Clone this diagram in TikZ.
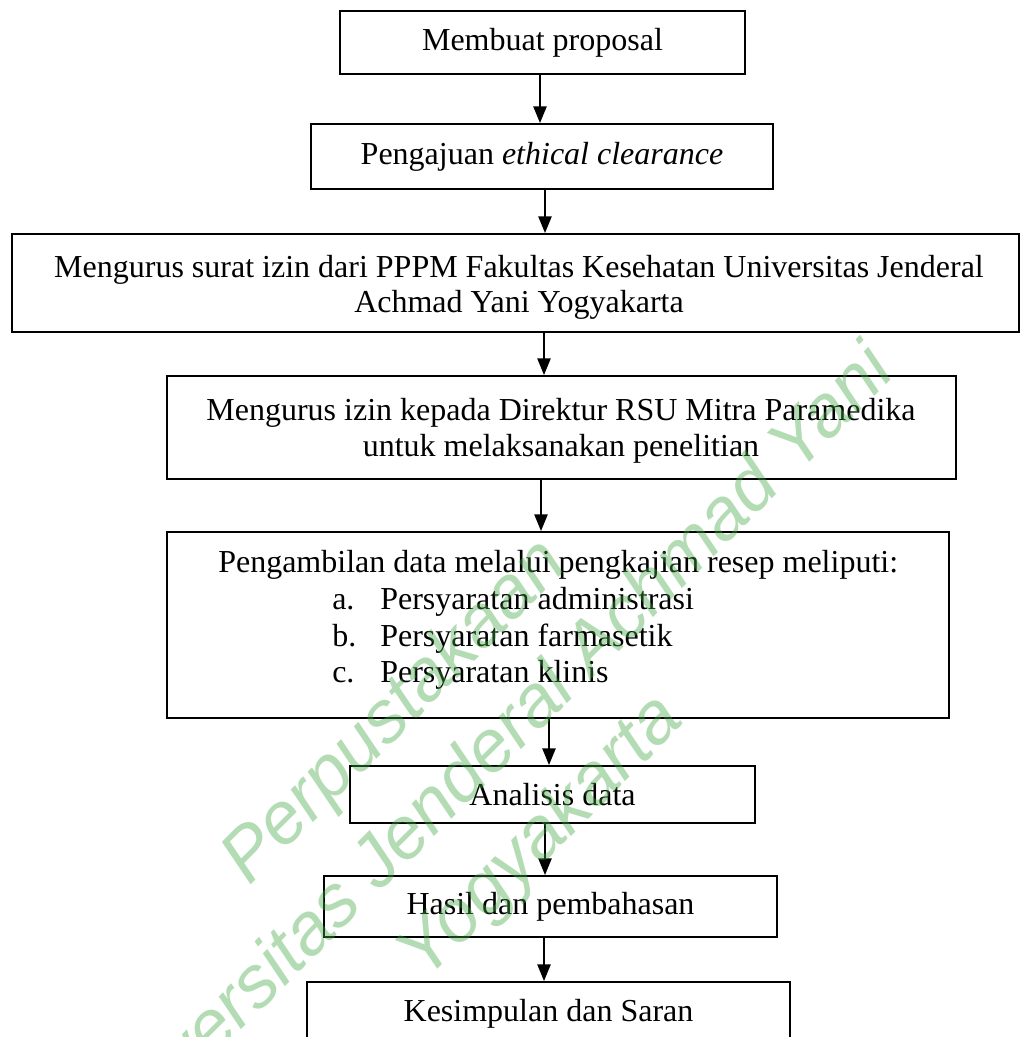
\documentclass[tikz,border=0pt]{standalone}
\usepackage{fontspec}
\setmainfont{Liberation Serif}
\newfontfamily\wmfont{Liberation Sans}
\usetikzlibrary{arrows.meta}
\definecolor{wmgreen}{RGB}{68,168,68}
\begin{document}
\begin{tikzpicture}[x=0.75pt,y=-0.75pt,
  box/.style={draw, line width=1.5pt, inner sep=0pt, align=center,
    font=\fontsize{24}{27}\selectfont},
  txt/.style={anchor=base west, inner sep=0pt, font=\fontsize{24}{27}\selectfont},
  ctxt/.style={anchor=base, inner sep=0pt, font=\fontsize{24}{27}\selectfont},
  arr/.style={line width=1.1pt, -{Triangle[length=12.5pt,width=10pt]}},
  wm/.style={text=wmgreen, text opacity=0.4, rotate=45, inner sep=0pt,
    font=\wmfont\itshape\fontsize{55}{55}\selectfont}]
\clip (0,0) rectangle (1021,1037);
\fill[white] (0,0) rectangle (1021,1037);
% boxes
\node[box, minimum width=405*0.75pt, minimum height=63*0.75pt] (b1) at (542.5,42.5) {Membuat proposal};
\node[box, minimum width=462*0.75pt, minimum height=65*0.75pt] (b2) at (542,156.5) {Pengajuan \textit{ethical clearance}};
\node[box, minimum width=1007*0.75pt, minimum height=98*0.75pt] (b3) at (515.5,283) {};
\node[ctxt] (t3a) at (519,277) {Mengurus surat izin dari PPPM Fakultas Kesehatan Universitas Jenderal};
\node[ctxt] (t3b) at (519,312) {Achmad Yani Yogyakarta};
\node[box, minimum width=789*0.75pt, minimum height=103*0.75pt] (b4) at (561.5,427.5) {};
\node[ctxt] (t4a) at (561,420) {Mengurus izin kepada Direktur RSU Mitra Paramedika};
\node[ctxt] (t4b) at (561,456) {untuk melaksanakan penelitian};
\node[box, minimum width=782*0.75pt, minimum height=186*0.75pt] (b5) at (558,625) {};
\node[txt] (t5) at (218,572) {Pengambilan data melalui pengkajian resep meliputi:};
\node[txt] (la) at (332,609) {a.};
\node[txt] (ia) at (380,609) {Persyaratan administrasi};
\node[txt] (lb) at (332,646) {b.};
\node[txt] (ib) at (380,646) {Persyaratan farmasetik};
\node[txt] (lc) at (332,682) {c.};
\node[txt] (ic) at (380,682) {Persyaratan klinis};
\node[box, minimum width=405*0.75pt, minimum height=57*0.75pt] (b6) at (552.5,794.5) {Analisis data};
\node[box, minimum width=453*0.75pt, minimum height=61*0.75pt] (b7) at (550.5,906.5) {Hasil dan pembahasan};
\node[box, minimum width=483*0.75pt, minimum height=63*0.75pt] (b8) at (548.5,1013.5) {Kesimpulan dan Saran};
% arrow columns
\coordinate (x1) at (540,0);
\coordinate (x2) at (545,0);
\coordinate (x3) at (544,0);
\coordinate (x4) at (541,0);
\coordinate (x5) at (549,0);
\coordinate (x6) at (545,0);
\coordinate (x7) at (544,0);
\draw[arr] (b1.south -| x1) -- (b2.north -| x1);
\draw[arr] (b2.south -| x2) -- (b3.north -| x2);
\draw[arr] (b3.south -| x3) -- (b4.north -| x3);
\draw[arr] (b4.south -| x4) -- (b5.north -| x4);
\draw[arr] (b5.south -| x5) -- (b6.north -| x5);
\draw[arr] (b6.south -| x6) -- (b7.north -| x6);
\draw[arr] (b7.south -| x7) -- (b8.north -| x7);
% watermark
\node[wm, anchor=base west] (w1) at (248.9,886.7) {Perpustakaan};
\node[wm, anchor=base east] (w2) at (897.3,374) {Universitas Jenderal Achmad Yani};
\node[wm, anchor=base west] (w3) at (425.7,981.5) {Yogyakarta};
\end{tikzpicture}
\end{document}
